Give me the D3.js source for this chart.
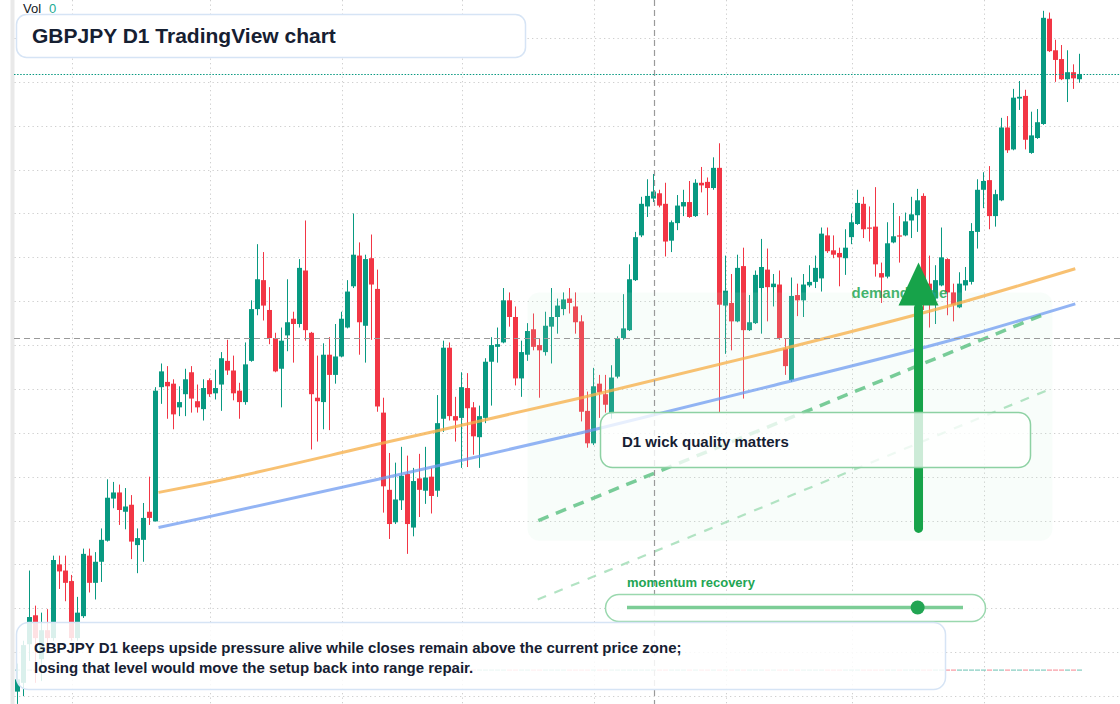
<!DOCTYPE html>
<html><head><meta charset="utf-8">
<script src="https://cdn.jsdelivr.net/npm/d3@7"></script>
<style>html,body{margin:0;padding:0;background:#fff;} svg{display:block;font-family:"Liberation Sans",Arial,sans-serif;}</style>
</head><body><svg id="chart" width="1120" height="704"></svg>
<script>
// ---------- data ----------
const symbol = "GBPJPY";
const timeframe = "D1";
const startDate = "2025-11-18";
const open = [191.55,191.65,192.09,192.42,191.92,192.25,192.16,193.00,192.93,192.81,192.16,192.41,193.10,192.79,193.03,193.27,193.75,193.82,193.60,193.68,193.22,193.28,193.60,193.49,195.02,195.08,195.06,194.79,194.94,195.19,194.86,194.77,195.10,194.95,195.05,195.32,195.21,194.98,194.85,195.32,195.91,196.24,195.90,195.58,195.23,195.61,195.80,195.74,196.35,195.64,194.90,194.85,195.39,195.16,195.37,195.70,196.17,196.52,195.72,196.49,196.14,194.73,193.85,193.48,193.73,194.03,193.42,193.98,193.84,194.00,193.84,194.66,195.47,194.69,194.67,195.01,194.79,194.45,194.67,195.31,195.48,195.53,196.01,195.82,195.12,195.39,195.68,195.50,195.42,195.71,195.82,195.91,196.03,195.94,195.77,194.75,194.38,195.06,194.94,194.72,195.14,195.58,195.67,196.24,196.75,197.08,197.17,197.23,197.11,196.69,196.89,197.08,197.13,196.97,197.35,197.36,197.29,197.52,195.95,195.98,195.77,196.40,195.67,195.75,196.15,196.36,196.16,196.19,195.46,195.10,196.07,196.01,196.18,196.22,196.26,196.75,196.58,196.55,196.49,196.73,196.88,197.11,196.84,196.85,196.32,196.28,196.67,196.75,196.75,196.92,196.98,197.20,196.20,196.03,196.18,196.48,196.10,195.93,196.18,196.22,196.79,197.27,197.38,196.97,197.15,197.98,197.73,198.31,198.34,197.69,197.86,198.02,199.22,198.86,198.76,198.53,198.61,198.53];
const high = [191.87,192.13,192.93,192.53,192.45,192.49,193.10,193.10,193.10,192.88,192.63,193.18,193.18,193.14,193.41,193.97,193.94,193.91,193.87,193.79,193.41,193.70,194.00,195.02,195.29,195.26,195.11,195.03,195.23,195.26,195.05,195.11,195.12,195.22,195.42,195.56,195.38,195.07,195.53,196.01,196.65,196.56,196.16,195.64,195.70,196.25,195.88,196.48,196.92,195.65,195.38,195.52,195.59,195.74,195.88,196.24,197.00,196.67,196.53,196.76,196.36,194.90,194.27,194.16,194.34,194.24,194.10,194.26,194.34,194.10,194.93,195.55,195.53,194.91,195.19,195.18,194.85,194.81,195.35,195.59,195.70,196.15,196.10,195.94,195.55,195.75,195.86,195.58,195.88,196.15,196.03,196.10,196.15,196.10,195.84,194.97,195.24,195.16,195.16,195.27,195.60,196.08,196.42,196.79,197.19,197.39,197.45,197.27,197.35,196.92,197.21,197.27,197.37,197.39,197.53,197.41,197.64,197.80,196.52,196.31,196.53,196.61,196.07,196.35,196.71,196.60,196.31,196.35,195.58,196.27,196.20,196.31,196.41,196.52,196.84,196.84,196.75,196.61,196.82,197.00,197.27,197.19,197.08,197.30,196.44,196.90,197.12,196.97,197.01,197.19,197.28,197.23,196.52,196.41,196.84,196.49,196.20,196.33,196.39,196.89,197.39,197.47,197.54,197.27,198.09,198.11,198.42,198.51,198.41,198.16,198.19,199.31,199.29,198.98,198.92,198.86,198.70,198.82];
const low = [191.41,191.50,191.90,191.65,191.67,192.01,192.13,192.72,192.58,192.13,192.13,192.39,192.68,192.60,192.80,193.26,193.64,193.45,193.40,193.06,192.90,193.03,193.45,193.49,194.83,194.66,194.54,194.69,194.69,194.73,194.73,194.64,194.91,194.88,194.75,195.16,194.87,194.66,194.82,195.31,195.84,195.78,195.51,195.19,194.79,195.43,195.30,195.70,195.55,194.31,194.40,194.54,194.53,195.06,195.36,195.69,196.15,195.39,195.30,195.56,194.74,193.59,193.29,193.46,193.62,193.12,193.32,193.54,193.69,193.58,193.77,194.51,194.64,194.40,194.10,194.11,194.25,194.10,194.61,194.81,195.30,195.52,195.71,195.04,194.91,195.32,195.44,194.90,195.38,195.29,195.63,195.84,195.86,195.63,194.63,194.33,194.36,194.67,194.73,194.66,195.12,195.56,195.66,196.23,196.73,196.96,197.13,197.07,196.51,196.56,196.81,196.97,196.95,196.96,197.24,196.98,197.27,194.73,195.40,195.44,195.76,194.89,195.66,195.74,195.63,195.77,195.94,195.56,195.16,195.08,195.83,195.82,196.16,196.15,196.11,196.55,196.49,196.17,196.30,196.65,196.87,196.72,196.68,196.28,195.98,196.26,196.66,196.44,196.74,196.72,196.79,195.90,195.70,195.74,196.17,195.84,195.77,195.92,196.12,196.19,196.60,197.06,196.82,196.85,197.14,197.69,197.72,198.18,197.73,197.68,197.85,198.01,198.84,198.50,198.52,198.27,198.42,198.49];
const close = [191.69,192.08,192.40,192.16,192.25,192.16,193.05,192.92,192.79,192.16,192.45,193.12,192.79,193.03,193.28,193.76,193.82,193.62,193.66,193.26,193.30,193.53,193.53,194.98,195.20,195.03,194.71,194.85,195.11,194.89,194.79,195.01,194.94,195.01,195.35,195.21,194.95,194.85,195.28,195.91,196.25,195.95,195.58,195.20,195.55,195.76,195.74,196.38,195.67,194.94,194.86,195.39,195.16,195.37,195.80,196.11,196.53,195.76,196.48,196.19,194.80,193.89,193.46,193.74,194.01,193.46,193.95,193.85,193.99,193.78,194.61,195.47,194.69,194.64,195.02,194.78,194.46,194.69,195.31,195.50,195.51,196.01,195.82,195.12,195.42,195.66,195.48,195.44,195.72,195.82,195.95,196.02,195.98,195.76,194.74,194.38,195.03,194.96,194.82,195.13,195.58,195.69,196.25,196.73,197.11,197.20,197.25,197.09,196.68,196.90,197.09,197.13,196.96,197.35,197.32,197.29,197.52,195.96,196.12,195.77,196.38,195.67,195.76,196.30,196.39,196.16,196.20,195.58,195.26,196.06,196.01,196.19,196.22,196.38,196.77,196.57,196.53,196.50,196.61,196.90,197.12,196.82,196.83,196.42,196.27,196.66,196.74,196.74,196.91,196.99,197.15,196.01,196.01,196.24,196.50,196.10,195.96,196.20,196.24,196.80,197.27,197.37,196.97,197.22,197.98,197.72,198.32,198.33,197.84,197.89,198.04,199.23,198.85,198.75,198.53,198.61,198.54,198.59];

// moving-average style guide lines (candle index, price)
const maFastIdx = [23.5, 31, 62, 94, 126, 158, 176.3];
const maFastVal = [193.82, 193.92, 194.40, 194.90, 195.43, 196.00, 196.37];
const maSlowIdx = [23.5, 31, 62, 94, 126, 158, 176.3];
const maSlowVal = [193.42, 193.53, 194.00, 194.50, 195.04, 195.60, 195.97];
// dashed trend channel (candle index, price)
const trendMainIdx = [86.8, 171.8];
const trendMainVal = [193.50, 195.87];
const trendLowIdx = [86.7, 171.8];
const trendLowVal = [192.60, 194.99];
// demand zone
const zoneIdx = [85, 172.5];
const zoneVal = [193.27, 196.10];
// arrow (index, base price, head base price, tip price)
const arrowIdx = 150.17;
const arrowVal = [193.41, 195.95, 196.44];
// crosshair
const crossIdx = 106;
const crossVal = 195.58;
const sliderValue = 0.865;

const titleText = "GBPJPY D1 TradingView chart";
const noteLines = ["GBPJPY D1 keeps upside pressure alive while closes remain above the current price zone;",
                   "losing that level would move the setup back into range repair."];
const calloutText = "D1 wick quality matters";
const zoneLabel = "demand zone";
const sliderLabel = "momentum recovery";

// ---------- setup ----------
function tradingDays(start, count){
  const out=[]; const d=new Date(start+"T00:00:00Z");
  while(out.length<count){ const wd=d.getUTCDay(); if(wd!==0&&wd!==6) out.push(new Date(d)); d.setUTCDate(d.getUTCDate()+1); }
  return out;
}
const dates = tradingDays(startDate, open.length);
const candles = dates.map((d,i)=>({d, i, o:open[i], h:high[i], l:low[i], c:close[i]}));

const UP="#089981", DOWN="#f23645", TEXT="#162032";
const svg = d3.select("#chart");
const x = d3.scaleBand().domain(dates.map(d=>+d)).range([14.5,1082.5]).paddingInner(1/6).paddingOuter(1/12);
const bw = x.bandwidth(), step = x.step();
const x0 = x(+dates[0]) + bw/2;
const xc = i => x0 + i*step;
const y = d3.scaleLinear().domain([191.5,199.0]).range([696,38]);

// left strip
svg.append("rect").attr("x",10.5).attr("y",0).attr("width",4).attr("height",704).attr("fill","#e9e9e9");

// grid
const grid = svg.append("g");
grid.selectAll("line.h").data(d3.range(191.5,199.01,0.5)).join("line")
  .attr("x1",14.5).attr("x2",1120).attr("y1",d=>Math.round(y(d))+0.5).attr("y2",d=>Math.round(y(d))+0.5)
  .attr("stroke","#cfcfcf").attr("stroke-width",1).attr("stroke-dasharray","1.3,3.2");
const monthStarts = candles.filter((c,i)=>i>0 && c.d.getUTCMonth()!==candles[i-1].d.getUTCMonth());
grid.selectAll("line.v").data(monthStarts).join("line")
  .attr("x1",c=>Math.round(xc(c.i))+0.5).attr("x2",c=>Math.round(xc(c.i))+0.5).attr("y1",0).attr("y2",704)
  .attr("stroke","#cfcfcf").attr("stroke-width",1).attr("stroke-dasharray","1.3,3.2");

// zero volume markers
svg.append("g").selectAll("rect").data(candles).join("rect")
  .attr("x",c=>x(+c.d)).attr("width",bw).attr("y",669.5).attr("height",1.2)
  .attr("fill",c=>c.c>=c.o?UP:DOWN).attr("opacity",0.5);

// candles
const cg = svg.append("g");
cg.selectAll("line").data(candles).join("line")
  .attr("x1",c=>x(+c.d)+bw/2).attr("x2",c=>x(+c.d)+bw/2)
  .attr("y1",c=>y(Math.max(c.h,c.o,c.c))).attr("y2",c=>y(Math.min(c.l,c.o,c.c)))
  .attr("stroke",c=>c.c>=c.o?UP:DOWN).attr("stroke-width",1);
cg.selectAll("rect").data(candles).join("rect")
  .attr("x",c=>x(+c.d)).attr("width",bw)
  .attr("y",c=>y(Math.max(c.o,c.c)))
  .attr("height",c=>Math.max(1.2, y(Math.min(c.o,c.c))-y(Math.max(c.o,c.c))))
  .attr("fill",c=>c.c>=c.o?UP:DOWN);

// demand zone
svg.append("rect").attr("x",xc(zoneIdx[0])).attr("width",xc(zoneIdx[1])-xc(zoneIdx[0]))
  .attr("y",y(zoneVal[1])).attr("height",y(zoneVal[0])-y(zoneVal[1])).attr("rx",12)
  .attr("fill","rgb(200,236,212)").attr("fill-opacity",0.12);

// MA lines
const ma = d3.line().x(d=>xc(d[0])).y(d=>y(d[1])).curve(d3.curveMonotoneX);
svg.append("path").attr("d",ma(d3.zip(maFastIdx,maFastVal))).attr("fill","none")
  .attr("stroke","#f6b04a").attr("stroke-opacity",0.78).attr("stroke-width",3);
svg.append("path").attr("d",ma(d3.zip(maSlowIdx,maSlowVal))).attr("fill","none")
  .attr("stroke","#6f9bf0").attr("stroke-opacity",0.75).attr("stroke-width",3);

// dashed trend lines
const tl = d3.line().x(d=>xc(d[0])).y(d=>y(d[1]));
svg.append("path").attr("d",tl(d3.zip(trendMainIdx,trendMainVal))).attr("fill","none")
  .attr("stroke","#4dbb77").attr("stroke-opacity",0.75).attr("stroke-width",3.5).attr("stroke-dasharray","11,8");
svg.append("path").attr("d",tl(d3.zip(trendLowIdx,trendLowVal))).attr("fill","none")
  .attr("stroke","#9fdcb4").attr("stroke-opacity",0.8).attr("stroke-width",2.2).attr("stroke-dasharray","9,9");

// crosshair
const chx = Math.round(xc(crossIdx))+0.5, chy = Math.round(y(crossVal))+0.5;
svg.append("line").attr("x1",chx).attr("x2",chx).attr("y1",0).attr("y2",704)
  .attr("stroke","#9a9a9a").attr("stroke-width",1.2).attr("stroke-dasharray","6,4");
svg.append("line").attr("x1",14).attr("x2",1120).attr("y1",chy).attr("y2",chy)
  .attr("stroke","#9a9a9a").attr("stroke-width",1.2).attr("stroke-dasharray","6,4");

// last price line
const lastY = Math.round(y(close[close.length-1]))+0.5;
svg.append("line").attr("x1",14).attr("x2",1120).attr("y1",lastY).attr("y2",lastY)
  .attr("stroke",UP).attr("stroke-width",1.2).attr("stroke-dasharray","1.5,1.6");

// zone label
svg.append("text").attr("x",xc(139)).attr("y",298).text(zoneLabel)
  .attr("font-size",15).attr("font-weight","bold").attr("fill","#22a653").attr("fill-opacity",0.85);

// arrow
const ax = xc(arrowIdx);
svg.append("line").attr("x1",ax).attr("x2",ax).attr("y1",y(arrowVal[0])).attr("y2",y(arrowVal[1])+2)
  .attr("stroke","#17a34a").attr("stroke-width",9).attr("stroke-linecap","round");
svg.append("path").attr("d",`M${ax},${y(arrowVal[2])} L${ax-20},${y(arrowVal[1])} L${ax+20},${y(arrowVal[1])} Z`)
  .attr("fill","#17a34a");

// callout box
svg.append("rect").attr("x",600.5).attr("y",412.5).attr("width",430).attr("height",55).attr("rx",12)
  .attr("fill","#fff").attr("fill-opacity",0.78).attr("stroke","#8dd1a3").attr("stroke-width",1.5);
svg.append("text").attr("x",622).attr("y",447).text(calloutText)
  .attr("font-size",15).attr("font-weight","bold").attr("fill",TEXT);

// momentum slider
svg.append("text").attr("x",627).attr("y",587).text(sliderLabel)
  .attr("font-size",13).attr("font-weight","bold").attr("fill","#22a553");
svg.append("rect").attr("x",605.5).attr("y",594.5).attr("width",380).attr("height",27).attr("rx",13.5)
  .attr("fill","#fff").attr("fill-opacity",0.9).attr("stroke","#9ad8ae").attr("stroke-width",1.5);
const sx = d3.scaleLinear().domain([0,1]).range([627,963]);
svg.append("line").attr("x1",sx(0)).attr("x2",sx(1)).attr("y1",607.5).attr("y2",607.5)
  .attr("stroke","#7ccd96").attr("stroke-width",3.5);
svg.append("circle").attr("cx",sx(sliderValue)).attr("cy",607.5).attr("r",7).attr("fill","#22a553");

// note box
svg.append("rect").attr("x",16.5).attr("y",622.5).attr("width",929).attr("height",67).attr("rx",12)
  .attr("fill","#fff").attr("fill-opacity",0.85).attr("stroke","#d6e4f5").attr("stroke-width",1.5);
svg.append("g").selectAll("text").data(noteLines).join("text")
  .attr("x",34).attr("y",(d,i)=>653+i*20).text(d=>d)
  .attr("font-size",15).attr("font-weight","bold").attr("fill",TEXT);

// title
svg.append("rect").attr("x",16.5).attr("y",14.5).attr("width",509).attr("height",43).attr("rx",10)
  .attr("fill","#fff").attr("stroke","#d6e4f5").attr("stroke-width",1.5);
svg.append("text").attr("x",32).attr("y",43).text(titleText)
  .attr("font-size",21).attr("font-weight","bold").attr("fill",TEXT);

// volume legend
svg.append("text").attr("x",23).attr("y",13).text("Vol").attr("font-size",13).attr("fill","#131722");
svg.append("text").attr("x",49).attr("y",13).text("0").attr("font-size",13).attr("fill","#22ab94");
</script></body></html>
